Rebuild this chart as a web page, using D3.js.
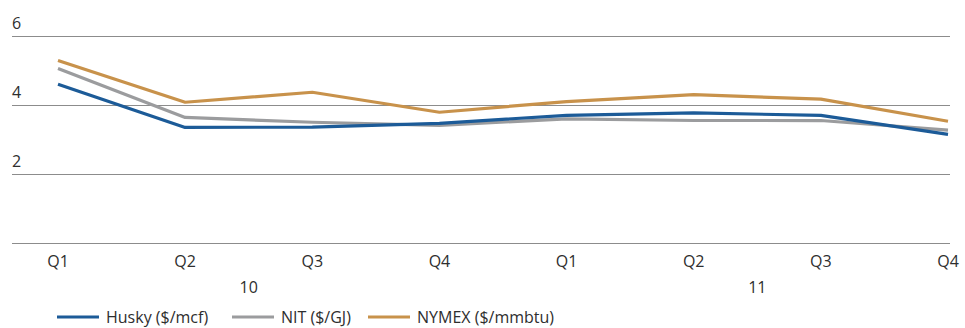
<!DOCTYPE html>
<html>
<head>
<meta charset="utf-8">
<script src="https://cdn.jsdelivr.net/npm/d3@7"></script>
<style>
  html, body { margin: 0; padding: 0; background: #fff; }
  svg { display: block; font-family: "Open Sans", "Noto Sans", sans-serif; }
</style>
</head>
<body>
<svg id="chart" width="965" height="328"></svg>
<script>
// Quarterly natural gas prices, 2010–2011
const quarters = ["Q1", "Q2", "Q3", "Q4", "Q1", "Q2", "Q3", "Q4"];
const years = ["10", "11"];
const yTicks = [2, 4, 6];

const husky = [4.6, 3.35, 3.36, 3.47, 3.7, 3.77, 3.7, 3.15];
const nit   = [5.06, 3.64, 3.5, 3.41, 3.6, 3.55, 3.55, 3.27];
const nymex = [5.29, 4.08, 4.37, 3.79, 4.1, 4.3, 4.17, 3.53];

const seriesNames = ["Husky ($/mcf)", "NIT ($/GJ)", "NYMEX ($/mmbtu)"];
const seriesValues = [husky, nit, nymex];
const colors = ["#1c5b98", "#9b9c9e", "#c8924b"];

const svg = d3.select("#chart");
const left = 12, right = 950;
const fontSize = 16;
const textColor = "#2e2e2e";

const x = d3.scalePoint()
  .domain(d3.range(quarters.length))
  .range([58, 948]);

const y = d3.scaleLinear()
  .domain([0, 6])
  .range([243, 36]);

// horizontal gridlines including the baseline
const grid = svg.append("g");
grid.selectAll("line")
  .data([0].concat(yTicks))
  .join("line")
  .attr("x1", left).attr("x2", right)
  .attr("y1", d => Math.round(y(d)) + 0.5)
  .attr("y2", d => Math.round(y(d)) + 0.5)
  .attr("stroke", "#8c8c8c")
  .attr("stroke-width", 1);

// y tick labels sit above their gridlines
svg.append("g").selectAll("text")
  .data(yTicks)
  .join("text")
  .attr("x", left)
  .attr("y", d => y(d) - 7)
  .attr("font-size", fontSize)
  .attr("fill", textColor)
  .text(d => d);

// series lines
const line = d3.line()
  .x((d, i) => x(i))
  .y(d => y(d));

// draw NYMEX first, then NIT, then Husky on top
[2, 1, 0].forEach(k => {
  svg.append("path")
    .datum(seriesValues[k])
    .attr("d", line)
    .attr("fill", "none")
    .attr("stroke", colors[k])
    .attr("stroke-width", 3.2)
    .attr("stroke-linejoin", "round");
});

// quarter labels
svg.append("g").selectAll("text")
  .data(quarters)
  .join("text")
  .attr("x", (d, i) => x(i))
  .attr("y", 267)
  .attr("text-anchor", "middle")
  .attr("font-size", fontSize)
  .attr("fill", textColor)
  .text(d => d);

// year labels centred under each group of four quarters
svg.append("g").selectAll("text")
  .data(years)
  .join("text")
  .attr("x", (d, i) => (x(i * 4 + 1) + x(i * 4 + 2)) / 2)
  .attr("y", 293)
  .attr("text-anchor", "middle")
  .attr("font-size", fontSize)
  .attr("fill", textColor)
  .text(d => d);

// legend
const legendX = [57, 232, 368];
const lg = svg.append("g").selectAll("g")
  .data(seriesNames)
  .join("g")
  .attr("transform", (d, i) => `translate(${legendX[i]},317)`);

lg.append("line")
  .attr("x1", 0).attr("x2", 42)
  .attr("y1", 0).attr("y2", 0)
  .attr("stroke", (d, i) => colors[i])
  .attr("stroke-width", 3.2);

lg.append("text")
  .attr("x", 49)
  .attr("y", 6)
  .attr("font-size", fontSize)
  .attr("fill", textColor)
  .text(d => d);
</script>
</body>
</html>
